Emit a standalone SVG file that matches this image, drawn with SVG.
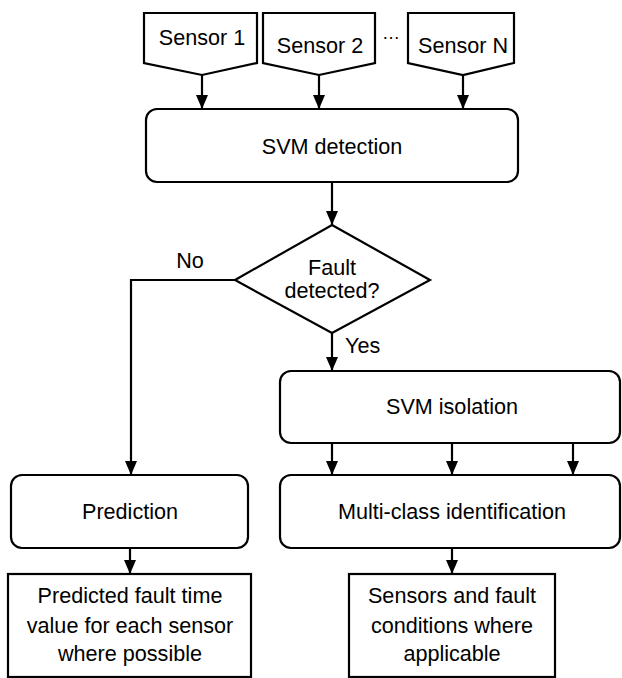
<svg xmlns="http://www.w3.org/2000/svg" width="622" height="678" viewBox="0 0 622 678">
<style>
.s{fill:#fff;stroke:#000;stroke-width:2.2}
.t{font-family:"Liberation Sans",Arial,sans-serif;font-size:21.6px;fill:#000;text-anchor:middle}
.c{fill:none;stroke:#000;stroke-width:2.2}
</style>
<defs>
<marker id="ah" markerWidth="14" markerHeight="12" refX="14" refY="6" orient="auto" markerUnits="userSpaceOnUse">
<path d="M0,0 L14,6 L0,12 Z" fill="#000"/>
</marker>
</defs>
<rect width="622" height="678" fill="#fff"/>
<g id="sensor1"><path class="s" d="M144,13 H257 V63 L202,75 L144,63 Z"/><text class="t" x="202" y="45">Sensor 1</text></g>
<g id="sensor2"><path class="s" d="M263,13 H375 V63 L319,75 L263,63 Z"/><text class="t" x="320" y="53">Sensor 2</text></g>
<text class="t" x="391" y="39" style="font-size:18px">…</text>
<g id="sensorN"><path class="s" d="M408,13 H514 V63 L463,75 L408,63 Z"/><text class="t" x="463" y="53">Sensor N</text></g>
<g id="detection"><rect class="s" x="146" y="109" width="372" height="73" rx="11"/><text class="t" x="332" y="154">SVM detection</text></g>
<g id="decision"><path class="s" d="M332,225 L430,280 L332,333 L235,280 Z"/><text class="t" x="332" y="275">Fault</text><text class="t" x="332" y="298">detected?</text></g>
<g id="isolation"><rect class="s" x="280" y="371" width="340" height="72" rx="11"/><text class="t" x="452" y="414">SVM isolation</text></g>
<g id="prediction"><rect class="s" x="11" y="475" width="237" height="73" rx="11"/><text class="t" x="130" y="519">Prediction</text></g>
<g id="multiclass"><rect class="s" x="280" y="475" width="340" height="73" rx="11"/><text class="t" x="452" y="519">Multi-class identification</text></g>
<g id="predout"><rect class="s" x="8" y="574" width="243" height="103"/><text class="t" x="130" y="603">Predicted fault time</text><text class="t" x="130" y="633">value for each sensor</text><text class="t" x="130" y="661">where possible</text></g>
<g id="idout"><rect class="s" x="349" y="574" width="206" height="103"/><text class="t" x="452" y="603">Sensors and fault</text><text class="t" x="452" y="633">conditions where</text><text class="t" x="452" y="661">applicable</text></g>
<g id="connectors">
<path class="c" d="M202,75 V109" marker-end="url(#ah)"/>
<path class="c" d="M319,75 V109" marker-end="url(#ah)"/>
<path class="c" d="M463,75 V109" marker-end="url(#ah)"/>
<path class="c" d="M332,182 V225" marker-end="url(#ah)"/>
<path class="c" d="M235,280 H131 V475" marker-end="url(#ah)"/>
<path class="c" d="M332,333 V371" marker-end="url(#ah)"/>
<path class="c" d="M332,443 V475" marker-end="url(#ah)"/>
<path class="c" d="M452,443 V475" marker-end="url(#ah)"/>
<path class="c" d="M573,443 V475" marker-end="url(#ah)"/>
<path class="c" d="M130,548 V574" marker-end="url(#ah)"/>
<path class="c" d="M452,548 V574" marker-end="url(#ah)"/>
<text class="t" x="190" y="268">No</text>
<text class="t" x="345" y="353" style="text-anchor:start">Yes</text>
</g>
</svg>
